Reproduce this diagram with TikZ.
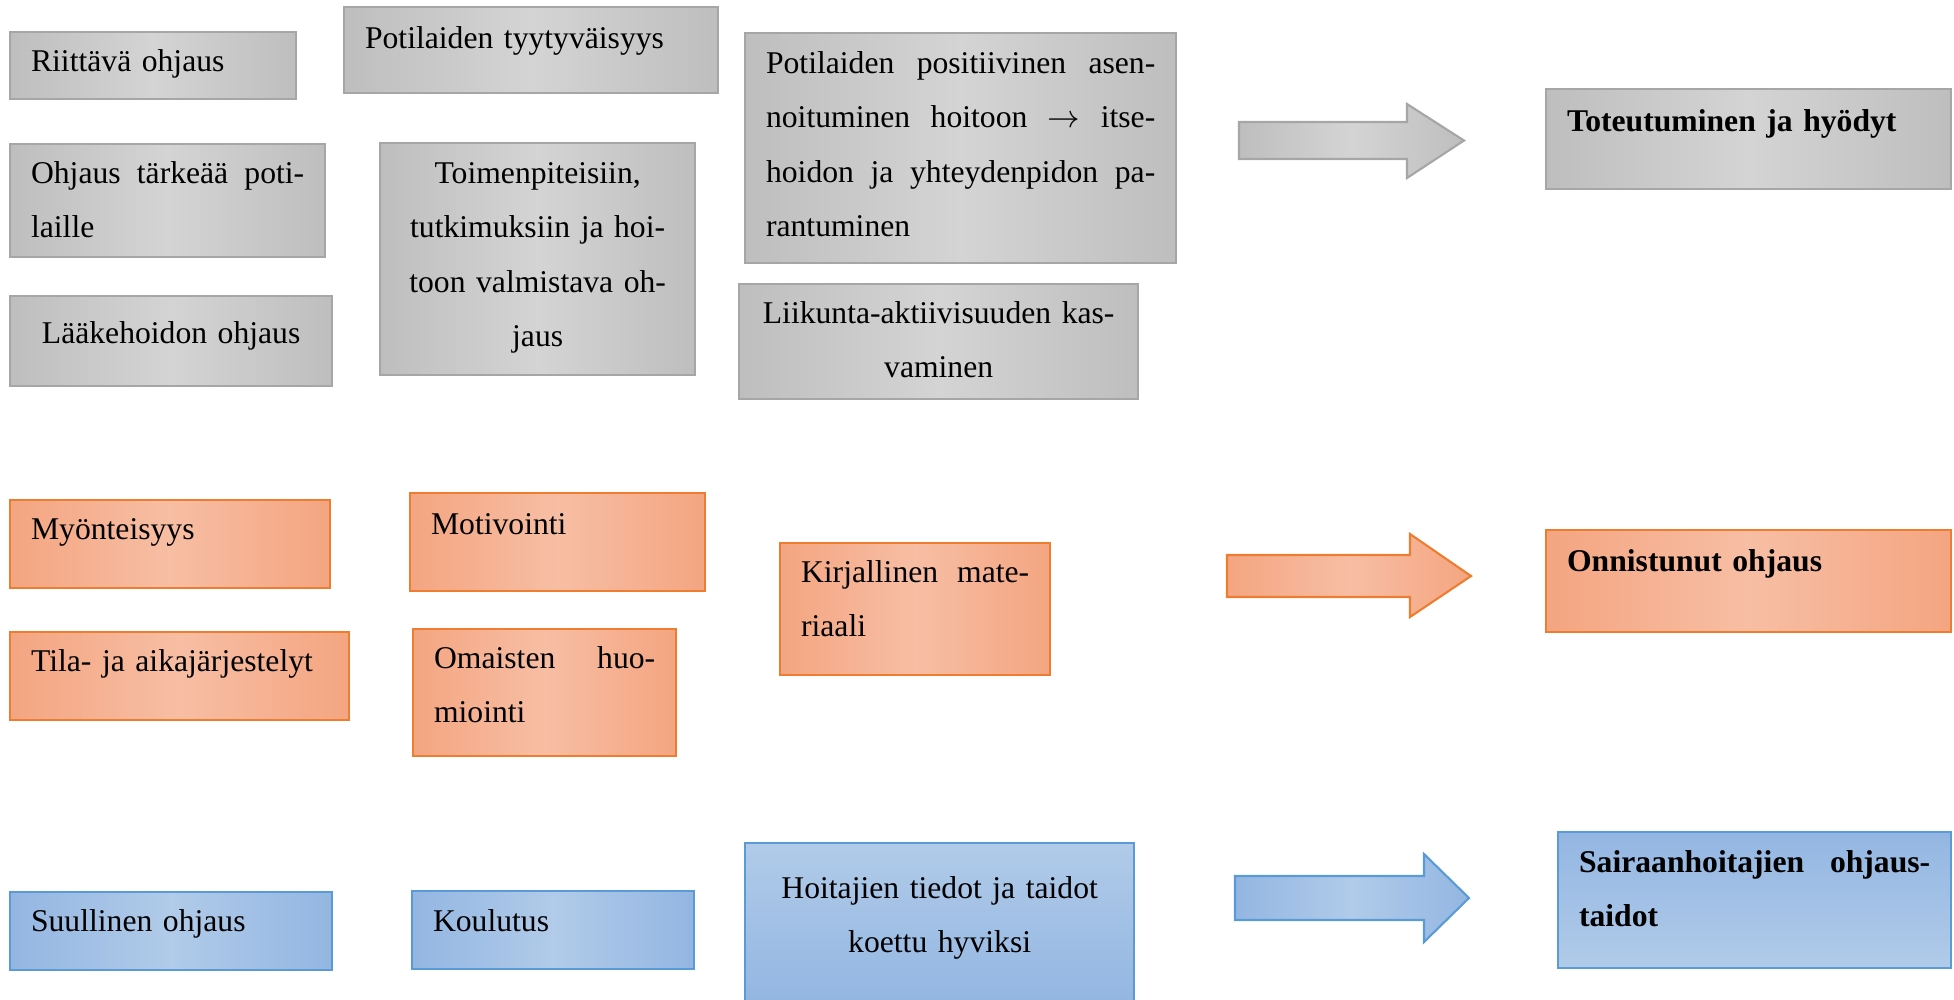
\documentclass[tikz,border=0pt]{standalone}
\usepackage{fontspec}
\setmainfont{Liberation Serif}

\definecolor{grayedge}{HTML}{BEBEBE}
\definecolor{graymid}{HTML}{D4D4D4}
\definecolor{grayline}{HTML}{A6A6A6}
\definecolor{orangeedge}{HTML}{F4A581}
\definecolor{orangemid}{HTML}{F7BEA4}
\definecolor{orangeline}{HTML}{ED7D31}
\definecolor{blueedge}{HTML}{93B6E2}
\definecolor{bluemid}{HTML}{B1CBE9}
\definecolor{blueline}{HTML}{5B9BD5}

\begin{document}
\begin{tikzpicture}[x=0.01cm, y=-0.01cm,
		box/.style n args={3}{anchor=north west, inner xsep=0.21cm, inner ysep=0pt, text width=#1, text height=#2, text depth=#3, align=left, line width=0.6pt, font=\fontsize{9}{15.5}\selectfont},
		bold/.style={font=\fontsize{9}{15.5}\selectfont\bfseries},
		graybox/.style={draw=grayline, left color=grayedge, right color=grayedge, middle color=graymid},
		orangebox/.style={draw=orangeline, left color=orangeedge, right color=orangeedge, middle color=orangemid},
		bluebox/.style={draw=blueline, left color=blueedge, right color=blueedge, middle color=bluemid},
		grayarrow/.style={graybox, line width=0.6pt},
		orangearrow/.style={orangebox, line width=0.6pt},
		bluearrow/.style={bluebox, line width=0.6pt}]
		\useasboundingbox (0,0) rectangle (1954,999);
		\node[box={2.44cm}{0.39cm}{0.28cm}, graybox] (riit) at (9,31) {Riittävä ohjaus};
		\node[box={3.32cm}{0.41cm}{0.45cm}, graybox] (tyyt) at (343,6) {Potilaiden tyytyväisyys};
		\node[box={3.89cm}{0.40cm}{1.90cm}, graybox] (asen) at (744,32) {Potilaiden\hfill positiivinen\hfill asen-\\noituminen\hfill hoitoon\hfill $\rightarrow$\hfill itse-\\hoidon\hfill ja\hfill yhteydenpidon\hfill pa-\\rantuminen};
		\node[box={3.63cm}{0.42cm}{0.58cm}, graybox, bold] (toteu) at (1545,88) {Toteutuminen ja hyödyt};
		\node[box={2.73cm}{0.39cm}{0.74cm}, graybox] (tark) at (9,143) {Ohjaus\hfill tärkeää\hfill poti-\\laille};
		\node[box={2.73cm}{0.40cm}{1.92cm}, graybox, align=center] (valm) at (379,142) {Toimenpiteisiin,\\tutkimuksiin ja hoi-\\toon valmistava oh-\\jaus};
		\node[box={2.80cm}{0.47cm}{0.43cm}, graybox, align=center] (laake) at (9,295) {Lääkehoidon ohjaus};
		\node[box={3.57cm}{0.39cm}{0.76cm}, graybox, align=center] (liik) at (738,283) {Liikunta-aktiivisuuden kas-\\vaminen};
		\draw[grayarrow] (1239,122) -- (1407,122) -- (1407,104) -- (1464,140.5) -- (1407,178) -- (1407,159) -- (1239,159) -- cycle;

		\node[box={2.78cm}{0.39cm}{0.49cm}, orangebox] (myon) at (9,499) {Myönteisyys};
		\node[box={2.53cm}{0.41cm}{0.57cm}, orangebox] (moti) at (409,492) {Motivointi};
		\node[box={2.28cm}{0.39cm}{0.93cm}, orangebox] (kirj) at (779,542) {Kirjallinen\hfill mate-\\riaali};
		\node[box={3.63cm}{0.41cm}{0.61cm}, orangebox, bold] (onni) at (1545,529) {Onnistunut ohjaus};
		\node[box={2.97cm}{0.39cm}{0.49cm}, orangebox] (tila) at (9,631) {Tila- ja aikajärjestelyt};
		\node[box={2.21cm}{0.39cm}{0.88cm}, orangebox] (omai) at (412,628) {Omaisten\hfill huo-\\miointi};
		\draw[orangearrow] (1227,555) -- (1410,555) -- (1410,534) -- (1471,576) -- (1410,617) -- (1410,597) -- (1227,597) -- cycle;

		\node[box={2.80cm}{0.39cm}{0.39cm}, bluebox] (suul) at (9,891) {Suullinen ohjaus};
		\node[box={2.40cm}{0.40cm}{0.38cm}, bluebox] (koul) at (411,890) {Koulutus};
		\node[box={3.47cm}{0.55cm}{1.04cm}, draw=blueline, top color=bluemid, bottom color=blueedge, align=center] (hoit) at (744,842) {Hoitajien tiedot ja taidot\\koettu hyviksi};
		\node[box={3.51cm}{0.40cm}{0.96cm}, draw=blueline, top color=blueedge, bottom color=bluemid, bold] (sair) at (1557,831) {Sairaanhoitajien\hfill ohjaus-\\taidot};
		\draw[bluearrow] (1235,876) -- (1424,876) -- (1424,854) -- (1469,898) -- (1424,942) -- (1424,920) -- (1235,920) -- cycle;
	\end{tikzpicture}
\end{document}
